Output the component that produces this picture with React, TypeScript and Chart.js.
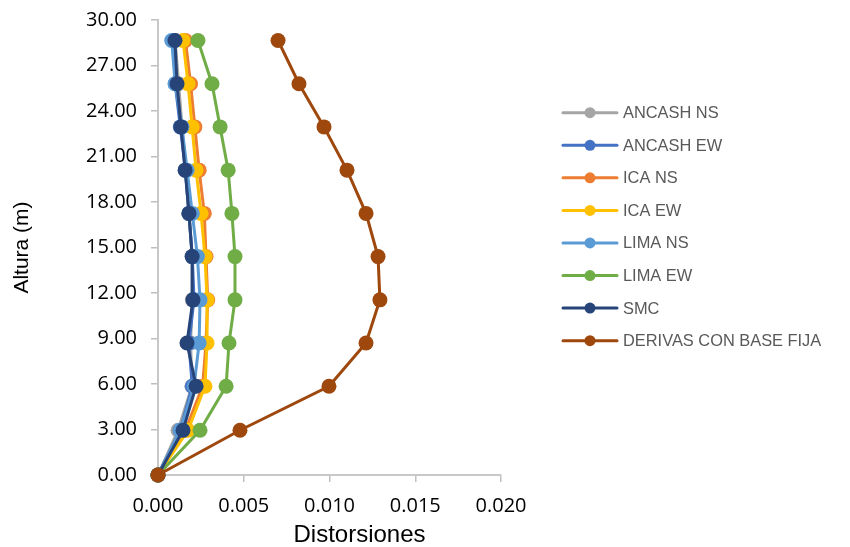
import React, { useEffect, useRef } from "react";
import { Chart, registerables } from "chart.js";

Chart.register(...registerables);

// Floor heights (m)
const heights = [0, 2.95, 5.85, 8.7, 11.55, 14.4, 17.25, 20.1, 22.95, 25.8, 28.65];

// Inter-storey drift ratios per record
const ancashNS = [0, 0.00117, 0.00198, 0.0019, 0.002, 0.002, 0.0018, 0.0016, 0.0014, 0.0012, 0.001];
const ancashEW = [0, 0.0013, 0.002, 0.0018, 0.0021, 0.002, 0.0018, 0.0016, 0.0013, 0.001, 0.0009];
const icaNS = [0, 0.0016, 0.0026, 0.0028, 0.0029, 0.0028, 0.0027, 0.0024, 0.00215, 0.0019, 0.0016];
const icaEW = [0, 0.00175, 0.00274, 0.00286, 0.00286, 0.00274, 0.00251, 0.00222, 0.00199, 0.00175, 0.00146];
const limaNS = [0, 0.0013, 0.0021, 0.0024, 0.00245, 0.0023, 0.002, 0.0017, 0.0014, 0.001, 0.0008];
const limaEW = [0, 0.00245, 0.00397, 0.00414, 0.00449, 0.00449, 0.00431, 0.00409, 0.00362, 0.00315, 0.00233];
const smc = [0, 0.00146, 0.00222, 0.00169, 0.00204, 0.00199, 0.00181, 0.00158, 0.00134, 0.00111, 0.00099];
const derivasBaseFija = [0, 0.00478, 0.00997, 0.01213, 0.01294, 0.01283, 0.01213, 0.01102, 0.00968, 0.00822, 0.007];

const seriesNames = [
  "ANCASH NS",
  "ANCASH EW",
  "ICA NS",
  "ICA EW",
  "LIMA NS",
  "LIMA EW",
  "SMC",
  "DERIVAS CON BASE FIJA",
];
const seriesValues = [ancashNS, ancashEW, icaNS, icaEW, limaNS, limaEW, smc, derivasBaseFija];
const seriesColors = ["#A5A5A5", "#4472C4", "#ED7D31", "#FFC000", "#5B9BD5", "#70AD47", "#264478", "#9E480E"];

const xTitle = "Distorsiones";
const yTitle = "Altura (m)";

const TICK_FONT = "'Open Sans', 'Liberation Sans', sans-serif";
const LABEL_FONT = "'Liberation Sans', Arial, sans-serif";

// Legend drawn as line + marker samples to the right of the plot
const lineLegend = {
  id: "lineLegend",
  afterDraw(chart: any) {
    const { ctx, chartArea } = chart;
    const x0 = chartArea.right + 62;
    const y0 = chartArea.top + 92.7;
    const step = 32.57;
    ctx.save();
    chart.data.datasets.forEach((ds: any, i: number) => {
      const y = y0 + i * step;
      ctx.strokeStyle = ds.borderColor;
      ctx.lineWidth = 3;
      ctx.lineCap = "round";
      ctx.beginPath();
      ctx.moveTo(x0, y);
      ctx.lineTo(x0 + 54, y);
      ctx.stroke();
      ctx.fillStyle = ds.borderColor;
      ctx.beginPath();
      ctx.arc(x0 + 27, y, 5.5, 0, Math.PI * 2);
      ctx.fill();
      ctx.fillStyle = "#595959";
      ctx.font = `16.4px ${LABEL_FONT}`;
      ctx.textAlign = "left";
      ctx.textBaseline = "middle";
      ctx.fillText(ds.label, x0 + 60, y + 1);
    });
    ctx.restore();
  },
};

// Horizontal axis title
const xAxisTitle = {
  id: "xAxisTitle",
  afterDraw(chart: any) {
    const { ctx, chartArea } = chart;
    ctx.save();
    ctx.fillStyle = "#000000";
    ctx.font = `24px ${LABEL_FONT}`;
    ctx.textAlign = "center";
    ctx.textBaseline = "middle";
    ctx.fillText(xTitle, (chartArea.left + chartArea.right) / 2 + 30, chartArea.bottom + 60);
    ctx.restore();
  },
};

export default function App() {
  const canvasRef = useRef<HTMLCanvasElement | null>(null);

  useEffect(() => {
    if (!canvasRef.current) return;
    const n = seriesNames.length;
    const chart = new Chart(canvasRef.current, {
      type: "scatter",
      data: {
        datasets: seriesNames.map((name, i) => ({
          label: name,
          data: seriesValues[i].map((v, k) => ({ x: v, y: heights[k] })),
          showLine: true,
          clip: false,
          borderColor: seriesColors[i],
          backgroundColor: seriesColors[i],
          borderWidth: 3,
          pointRadius: 7.5,
          pointHoverRadius: 7.5,
          pointBorderWidth: 0,
          pointBackgroundColor: seriesColors[i],
          order: n - i,
        })),
      },
      options: {
        animation: false,
        responsive: false,
        layout: { padding: { top: 20, right: 349, bottom: 0, left: 0 } },
        plugins: {
          legend: { display: false },
          tooltip: { enabled: false },
        },
        scales: {
          x: {
            type: "linear",
            min: 0,
            max: 0.02,
            afterFit: (s: any) => {
              s.height = 72;
              s.paddingLeft = 0;
              s.paddingRight = 0;
            },
            ticks: {
              stepSize: 0.005,
              color: "#000000",
              padding: 12,
              font: { family: TICK_FONT, size: 20 },
              callback: (v: any) => Number(v).toFixed(3),
            },
            grid: {
              drawOnChartArea: false,
              drawTicks: true,
              tickLength: 7,
              color: "#BFBFBF",
              lineWidth: 1.5,
            },
            border: { display: true, color: "#C8C8C8", width: 2 },
          },
          y: {
            type: "linear",
            min: 0,
            max: 30,
            afterFit: (s: any) => {
              s.width = 158;
              s.paddingTop = 0;
              s.paddingBottom = 0;
            },
            ticks: {
              stepSize: 3,
              color: "#000000",
              padding: 14,
              font: { family: TICK_FONT, size: 20 },
              callback: (v: any) => Number(v).toFixed(2),
            },
            grid: {
              drawOnChartArea: false,
              drawTicks: true,
              tickLength: 7,
              color: "#BFBFBF",
              lineWidth: 1.5,
            },
            border: { display: true, color: "#C8C8C8", width: 2 },
            title: {
              display: true,
              text: yTitle,
              color: "#000000",
              font: { family: LABEL_FONT, size: 21 },
              padding: { top: 9.4, bottom: 0 },
            },
          },
        },
      },
      plugins: [lineLegend, xAxisTitle],
    });
    return () => chart.destroy();
  }, []);

  return (
    <div style={{ position: "fixed", left: 0, top: 0, width: 850, height: 547, background: "#ffffff" }}>
      <canvas ref={canvasRef} width={850} height={547} />
    </div>
  );
}
